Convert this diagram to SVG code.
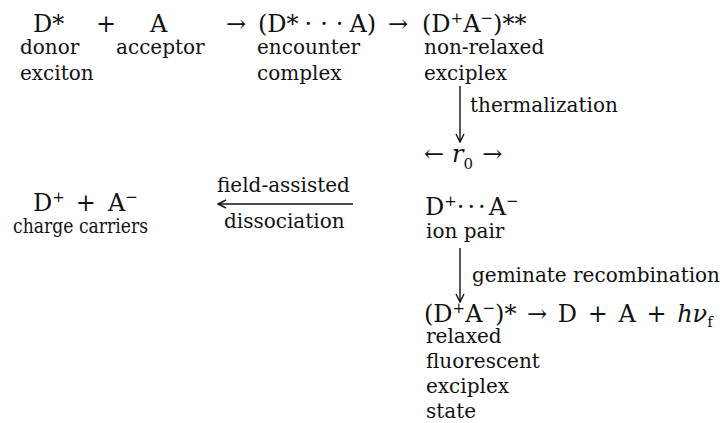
<svg xmlns="http://www.w3.org/2000/svg" width="726" height="423" viewBox="0 0 726 423">
<defs>
<style>
text{font-family:"DejaVu Serif","Liberation Serif",serif;fill:#111}
.f{font-size:24px}
.l{font-size:20px}
.s{font-size:15px}
.it{font-style:italic}
.conn line{stroke:#111;stroke-width:1.4;fill:none}
</style>
<marker id="ah" viewBox="0 0 10 10" refX="9" refY="5" markerWidth="10" markerHeight="10" markerUnits="userSpaceOnUse" orient="auto">
<path d="M1,1 L9,5 L1,9" fill="none" stroke="#111" stroke-width="1.4"/>
</marker>
</defs>
<rect width="726" height="423" fill="#fff"/>
<g id="donor">
<text class="f" x="33" y="32">D*</text>
<text class="l" x="20" y="54">donor</text>
<text class="l" x="20" y="80">exciton</text>
</g>
<g id="plus1"><text class="f" x="96" y="32">+</text></g>
<g id="acceptor">
<text class="f" x="150" y="32">A</text>
<text class="l" x="116" y="54">acceptor</text>
</g>
<g id="arrow1"><text class="f" x="226" y="32">→</text></g>
<g id="encounter">
<text class="f" x="258" y="32">(D*<tspan dx="6" letter-spacing="8">···</tspan><tspan dx="-2">A)</tspan></text>
<text class="l" x="257" y="54">encounter</text>
<text class="l" x="257" y="80">complex</text>
</g>
<g id="arrow2"><text class="f" x="388" y="32">→</text></g>
<g id="nonrelaxed">
<text class="f" x="422" y="32">(D<tspan class="s" dy="-9">+</tspan><tspan dy="9">A</tspan><tspan class="s" dy="-9">−</tspan><tspan dy="9">)**</tspan></text>
<text class="l" x="424" y="54">non-relaxed</text>
<text class="l" x="424" y="80">exciplex</text>
</g>
<g id="r0">
<text class="f" x="424" y="162">←<tspan dx="8" class="it">r</tspan><tspan class="s" dy="7">0</tspan><tspan dy="-7" dx="9">→</tspan></text>
</g>
<g id="ionpair">
<text class="f" x="425" y="215">D<tspan class="s" dy="-9">+</tspan><tspan dy="9" letter-spacing="3">···</tspan><tspan>A</tspan><tspan class="s" dy="-9">−</tspan></text>
<text class="l" x="426" y="238">ion pair</text>
</g>
<g id="carriers">
<text class="f" x="33" y="211">D<tspan class="s" dy="-9">+</tspan><tspan dy="9" dx="11">+</tspan><tspan dx="12">A</tspan><tspan class="s" dy="-9">−</tspan></text>
<text class="l" x="13" y="233" textLength="135" lengthAdjust="spacingAndGlyphs">charge carriers</text>
</g>
<g id="relaxed">
<text class="f" x="424" y="322" word-spacing="3">(D<tspan class="s" dy="-9">+</tspan><tspan dy="9">A</tspan><tspan class="s" dy="-9">−</tspan><tspan dy="9">)* → D + A + </tspan><tspan class="it">hν</tspan><tspan class="s" dy="5">f</tspan></text>
<text class="l" x="426" y="343">relaxed</text>
<text class="l" x="426" y="368">fluorescent</text>
<text class="l" x="426" y="393">exciplex</text>
<text class="l" x="426" y="418">state</text>
</g>
<g class="conn" id="connectors">
<line x1="460" y1="86" x2="460" y2="142" marker-end="url(#ah)"/>
<text class="l" x="470" y="112">thermalization</text>
<line x1="353" y1="204" x2="218" y2="204" marker-end="url(#ah)"/>
<text class="l" x="217" y="192">field-assisted</text>
<text class="l" x="224" y="228">dissociation</text>
<line x1="460" y1="248" x2="460" y2="302" marker-end="url(#ah)"/>
<text class="l" x="472" y="282">geminate recombination</text>
</g>
</svg>
